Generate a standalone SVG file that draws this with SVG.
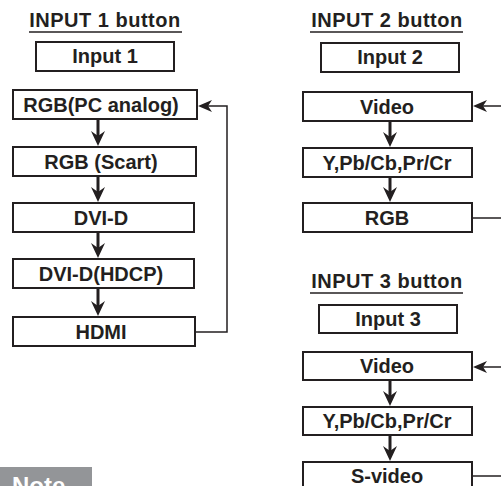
<svg xmlns="http://www.w3.org/2000/svg" width="501" height="486" viewBox="0 0 501 486">
<style>
.box{fill:#fff;stroke:#231f20;stroke-width:2}
.lbl{font-family:"Liberation Sans",Arial,sans-serif;font-weight:bold;font-size:20px;fill:#231f20;text-anchor:middle}
.ttl{font-family:"Liberation Sans",Arial,sans-serif;font-weight:bold;font-size:20px;fill:#231f20;text-anchor:middle;letter-spacing:0.5px}
.ul{stroke:#231f20;stroke-width:1.5}
.ln{fill:none;stroke:#231f20;stroke-width:1.5}
.dn{fill:none;stroke:#231f20;stroke-width:3}
.ah{fill:#231f20;stroke:none}
</style>
<defs>
<path id="ahd" d="M-7,-15 L0,0 L7,-15 L0,-10 Z"/>
<path id="ahl" d="M14,-6 L0,0 L14,6 L10,0 Z"/>
</defs>

<g id="titles">
<text class="ttl" x="105" y="27">INPUT 1 button</text>
<line class="ul" x1="29" y1="32" x2="182" y2="32"/>
<text class="ttl" x="387" y="27">INPUT 2 button</text>
<line class="ul" x1="310" y1="32" x2="463" y2="32"/>
<text class="ttl" x="387" y="288">INPUT 3 button</text>
<line class="ul" x1="310" y1="293" x2="463" y2="293"/>
</g>

<g id="input1"><rect class="box" x="36" y="42" width="138" height="29"/><text class="lbl" x="105" y="63">Input 1</text></g>
<g id="rgbpc"><rect class="box" x="13" y="90" width="184" height="29"/><text class="lbl" x="101" y="112">RGB(PC analog)</text></g>
<g id="rgbscart"><rect class="box" x="13" y="147" width="183" height="29"/><text class="lbl" x="101" y="169">RGB (Scart)</text></g>
<g id="dvid"><rect class="box" x="13" y="203" width="181" height="29"/><text class="lbl" x="101" y="225">DVI-D</text></g>
<g id="dvidhdcp"><rect class="box" x="13" y="259" width="181" height="29"/><text class="lbl" x="101" y="281">DVI-D(HDCP)</text></g>
<g id="hdmi"><rect class="box" x="13" y="317" width="182" height="29"/><text class="lbl" x="101" y="339">HDMI</text></g>

<g id="input2"><rect class="box" x="321" y="43" width="138" height="29"/><text class="lbl" x="390" y="64">Input 2</text></g>
<g id="video2"><rect class="box" x="303" y="92" width="169" height="29"/><text class="lbl" x="387" y="114">Video</text></g>
<g id="ypb2"><rect class="box" x="303" y="148" width="169" height="29"/><text class="lbl" x="387" y="170">Y,Pb/Cb,Pr/Cr</text></g>
<g id="rgb2"><rect class="box" x="303" y="203" width="169" height="29"/><text class="lbl" x="387" y="225">RGB</text></g>

<g id="input3"><rect class="box" x="319" y="305" width="138" height="28"/><text class="lbl" x="388" y="326">Input 3</text></g>
<g id="video3"><rect class="box" x="303" y="352" width="169" height="28"/><text class="lbl" x="387" y="373">Video</text></g>
<g id="ypb3"><rect class="box" x="303" y="407" width="169" height="28"/><text class="lbl" x="387" y="428">Y,Pb/Cb,Pr/Cr</text></g>
<g id="svideo3"><rect class="box" x="303" y="462" width="169" height="29"/><text class="lbl" x="387" y="483">S-video</text></g>

<g id="note"><rect x="0" y="467" width="92" height="25" fill="#939598"/><text x="12" y="494" font-family="'Liberation Sans',Arial,sans-serif" font-weight="bold" font-size="24" fill="#fff">Note</text></g>

<g id="connectors">
<line class="dn" x1="98" y1="120" x2="98" y2="139"/><use href="#ahd" class="ah" x="98" y="146"/>
<line class="dn" x1="98" y1="177" x2="98" y2="195"/><use href="#ahd" class="ah" x="98" y="202"/>
<line class="dn" x1="98" y1="233" x2="98" y2="251"/><use href="#ahd" class="ah" x="98" y="258"/>
<line class="dn" x1="98" y1="289" x2="98" y2="309"/><use href="#ahd" class="ah" x="98" y="316"/>
<polyline class="ln" points="196,332 227,332 227,106 206,106"/><use href="#ahl" class="ah" x="198" y="106"/>

<line class="dn" x1="390" y1="122" x2="390" y2="140"/><use href="#ahd" class="ah" x="390" y="147"/>
<line class="dn" x1="390" y1="178" x2="390" y2="195"/><use href="#ahd" class="ah" x="390" y="202"/>
<line class="ln" x1="473" y1="218" x2="501" y2="218"/>
<line class="ln" x1="482" y1="106" x2="501" y2="106"/><use href="#ahl" class="ah" x="473" y="106"/>

<line class="dn" x1="390" y1="381" x2="390" y2="399"/><use href="#ahd" class="ah" x="390" y="406"/>
<line class="dn" x1="390" y1="436" x2="390" y2="454"/><use href="#ahd" class="ah" x="390" y="461"/>
<line class="ln" x1="473" y1="476" x2="501" y2="476"/>
<line class="ln" x1="482" y1="367" x2="501" y2="367"/><use href="#ahl" class="ah" x="473" y="367"/>
</g>
</svg>
